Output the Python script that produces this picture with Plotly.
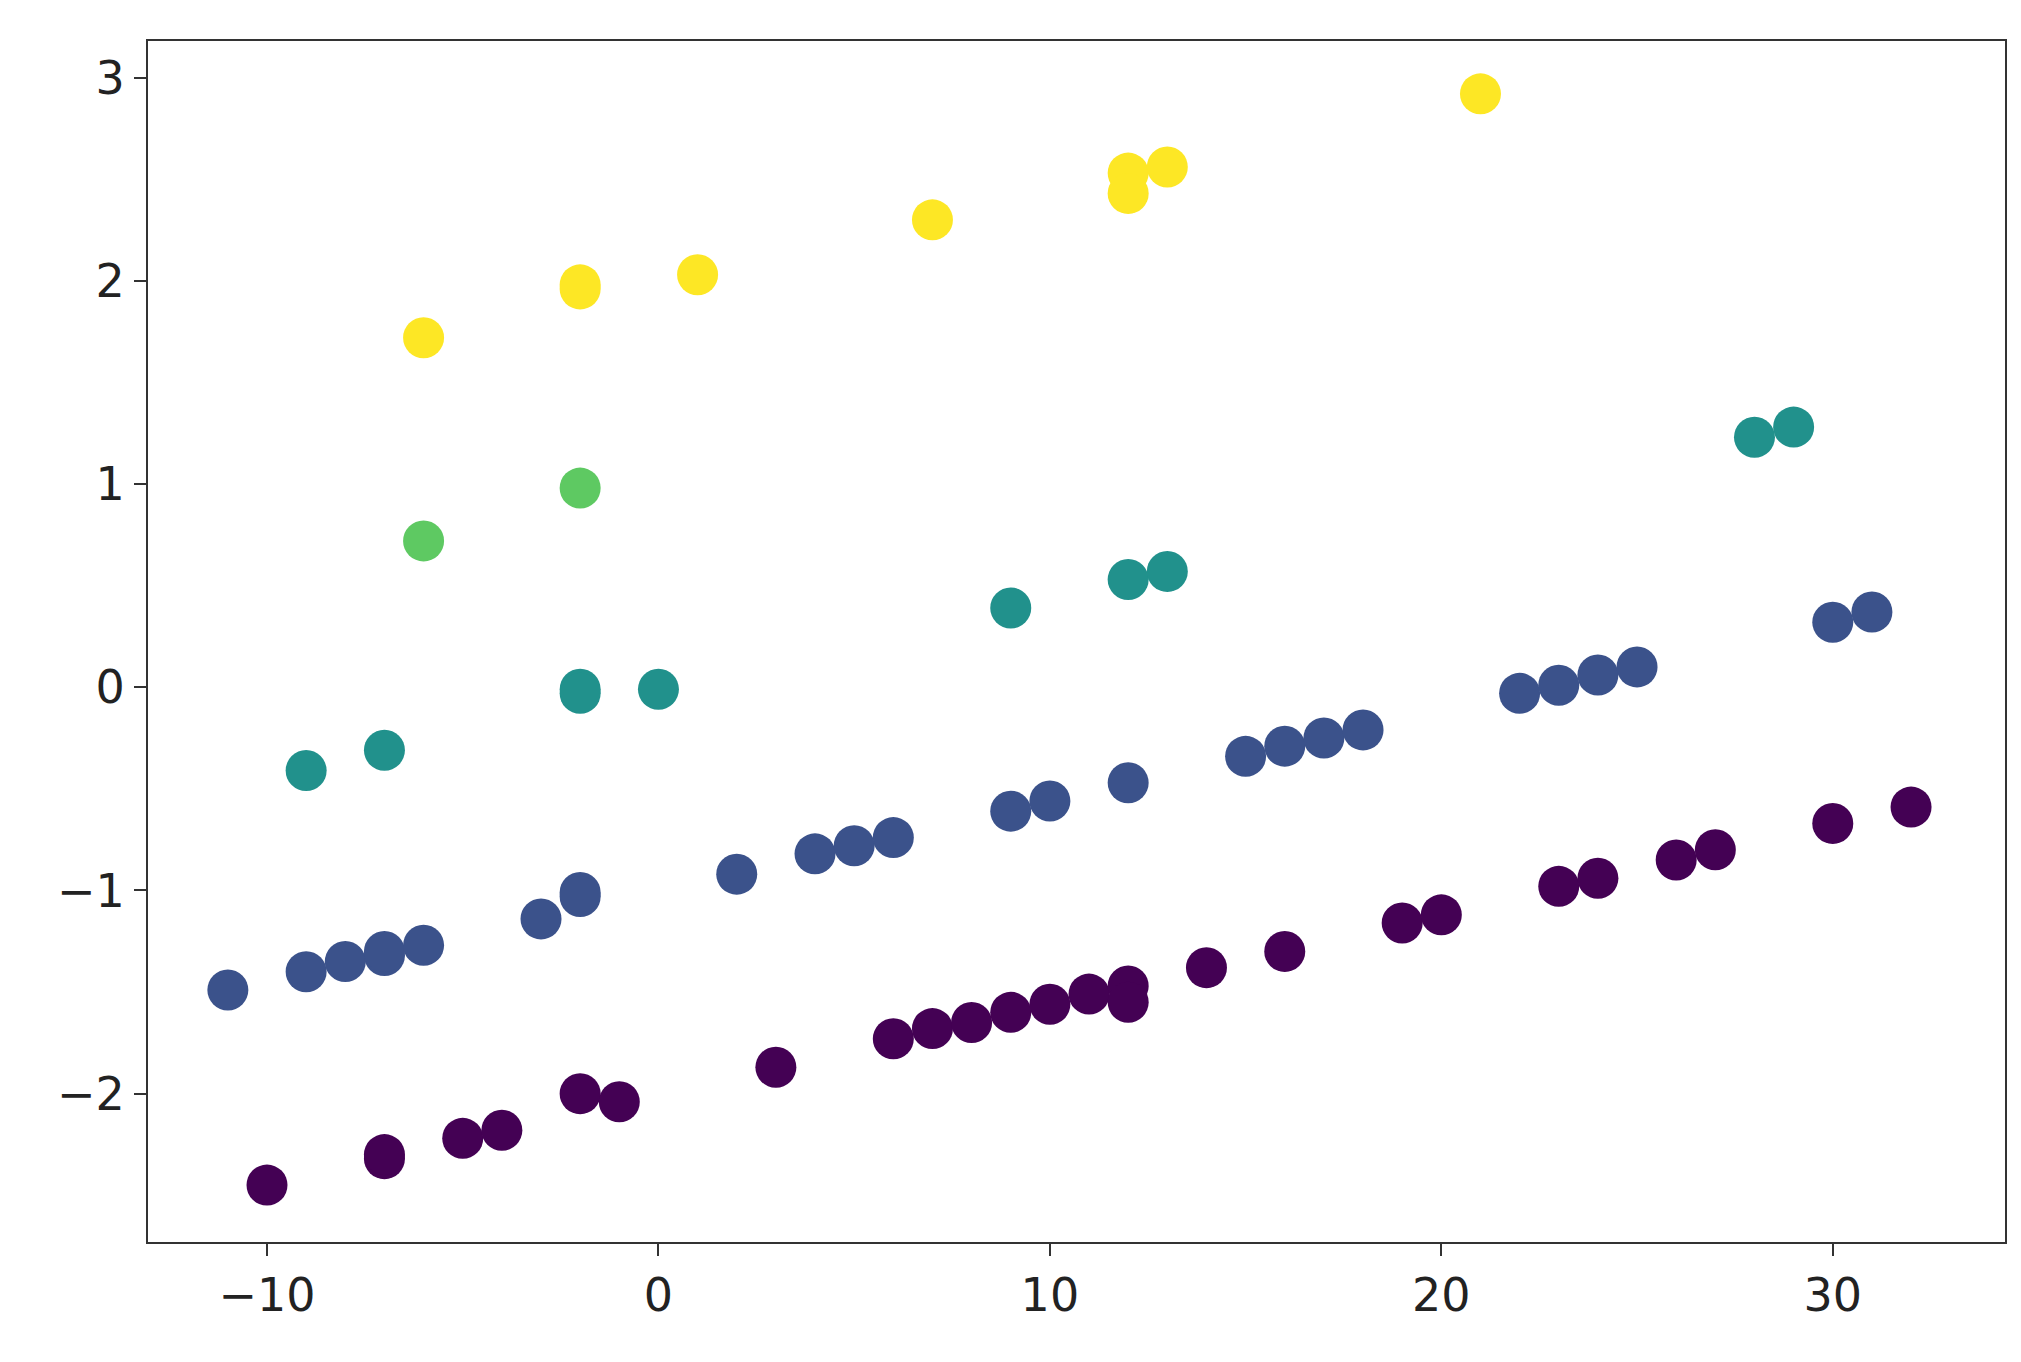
import plotly.graph_objects as go

purple_x = [-10, -7, -7, -5, -4, -2, -1, 3, 6, 7, 8, 9, 10, 11, 12, 12, 14, 16, 19, 20, 23, 24, 26, 27, 30, 32]
purple_y = [-2.45, -2.32, -2.30, -2.22, -2.18, -2.0, -2.04, -1.87, -1.73, -1.68, -1.65, -1.60, -1.56, -1.51,
            -1.47, -1.55, -1.38, -1.30, -1.16, -1.12, -0.98, -0.94, -0.85, -0.80, -0.67, -0.59]

blue_x = [-11, -9, -8, -7, -7, -6, -3, -2, -2, 2, 4, 5, 6, 9, 10, 12, 15, 16, 17, 18, 22, 23, 24, 25, 30, 31]
blue_y = [-1.49, -1.40, -1.35, -1.32, -1.30, -1.27, -1.14, -1.01, -1.03, -0.92, -0.82, -0.78, -0.74, -0.61,
          -0.56, -0.47, -0.34, -0.29, -0.25, -0.21, -0.03, 0.01, 0.06, 0.10, 0.32, 0.37]

teal_x = [-9, -7, -2, -2, 0, 9, 12, 13, 28, 29]
teal_y = [-0.41, -0.31, -0.01, -0.03, -0.01, 0.39, 0.53, 0.57, 1.23, 1.28]

green_x = [-6, -2]
green_y = [0.72, 0.98]

yellow_x = [-6, -2, -2, 1, 7, 12, 12, 13, 21]
yellow_y = [1.72, 1.98, 1.96, 2.03, 2.30, 2.53, 2.43, 2.56, 2.92]

groups = [
    (purple_x, purple_y, "#440154"),
    (blue_x, blue_y, "#3b528b"),
    (teal_x, teal_y, "#21918c"),
    (green_x, green_y, "#5ec962"),
    (yellow_x, yellow_y, "#fde725"),
]

fig = go.Figure()
for xs, ys, c in groups:
    fig.add_trace(go.Scatter(x=xs, y=ys, mode="markers",
                             marker=dict(color=c, size=41, line_width=0)))

axis = dict(showgrid=False, zeroline=False, showline=True, linecolor="#333",
            linewidth=2, mirror=True, ticks="outside", ticklen=12, tickwidth=2,
            tickcolor="#333", tickfont=dict(family="DejaVu Sans", size=46, color="#222"))
fig.update_layout(
    width=2021, height=1362, showlegend=False,
    paper_bgcolor="white", plot_bgcolor="white",
    margin=dict(l=140, r=24, t=33, b=128),
)
fig.update_xaxes(range=[-13.04, 34.4], tickvals=[-10, 0, 10, 20, 30],
                 ticktext=["\u221210", "0", "10", "20", "30"], **axis)
fig.update_yaxes(range=[-2.73, 3.18], tickvals=[-2, -1, 0, 1, 2, 3],
                 ticktext=["\u22122", "\u22121", "0", "1", "2", "3"], **axis)
fig.write_html("out.html")
